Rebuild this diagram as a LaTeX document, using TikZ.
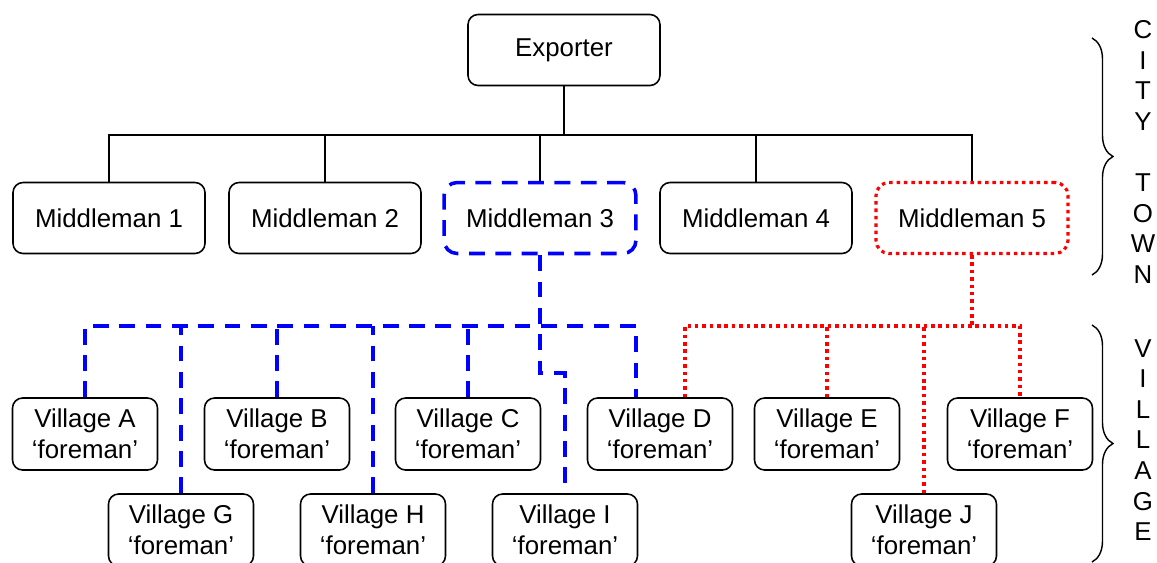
\documentclass[tikz,border=0pt]{standalone}
\usepackage{fontspec}
\setmainfont{Liberation Sans}
\usetikzlibrary{decorations.pathreplacing}
\definecolor{blueline}{HTML}{0000FF}
\definecolor{redline}{HTML}{FF0000}
\tikzset{
  box/.style={draw, line width=0.9pt, rounded corners=0.2cm, minimum width=3.84cm, minimum height=1.42cm, inner sep=0pt, align=center},
  village/.style={box, minimum width=2.9cm, minimum height=1.44cm},
  blueconn/.style={draw=blueline, line width=2pt, dash pattern=on 9pt off 6pt},
  redconn/.style={draw=redline, line width=1.8pt, dash pattern=on 2pt off 2.2pt},
  conn/.style={draw, line width=0.75pt},
  sidebrace/.style={decorate, decoration={brace, amplitude=0.42cm}, line width=0.8pt}
}

\begin{document}
\begin{tikzpicture}[x=0.02cm, y=-0.02cm, font=\fontsize{14.7}{17.4}\selectfont]
\useasboundingbox (0,0) rectangle (1157,562);

\node[box] (exp) at (564,50) {Exporter};
\node[box] (m1) at (109,218) {Middleman 1};
\node[box] (m2) at (325,218) {Middleman 2};
\node[box, blueconn, rounded corners=0.26cm] (m3) at (540,218) {Middleman 3};
\node[box] (m4) at (756,218) {Middleman 4};
\node[box, redconn, rounded corners=0.26cm] (m5) at (972,218) {Middleman 5};

\node[village] (va) at (85,434) {Village A\\‘foreman’};
\node[village] (vb) at (277,434) {Village B\\‘foreman’};
\node[village] (vc) at (468,434) {Village C\\‘foreman’};
\node[village] (vd) at (660,434) {Village D\\‘foreman’};
\node[village] (ve) at (827,434) {Village E\\‘foreman’};
\node[village] (vf) at (1020,434) {Village F\\‘foreman’};
\node[village] (vg) at (181,530) {Village G\\‘foreman’};
\node[village] (vh) at (373,530) {Village H\\‘foreman’};
\node[village] (vi) at (565,530) {Village I\\‘foreman’};
\node[village] (vj) at (924,530) {Village J\\‘foreman’};

\coordinate (bus) at (564,135);
\draw[conn, line width=1.4pt] (exp.south) -- (bus);
\foreach \m in {m1,m2,m3,m4,m5}
  \draw[conn] (\m.north) |- (bus);

\coordinate (bb) at (540,326);
\coordinate (bstep) at (540,373);
\draw[blueconn] ([xshift=0cm]va.north) |- (bb) -| ([xshift=-0.48cm]vd.north);
\foreach \v in {vg,vb,vh,vc}
  \draw[blueconn] (\v.north) -- (\v.north |- bb);
\draw[blueconn] (m3.south) -- (bstep) -| (vi.north);

\coordinate (rb) at (972,326);
\draw[redconn] (m5.south) -- (rb);
\draw[redconn] ([xshift=0.5cm]vd.north) |- (rb) -| (vf.north);
\foreach \v in {ve,vj}
  \draw[redconn] (\v.north) -- (\v.north |- rb);

\draw[sidebrace] (1092,38) -- (1092,275);
\draw[sidebrace] (1092,325) -- (1092,562);
\node[align=center] (citytown) at (1143,152) {C\\I\\T\\Y\\[17.4pt]T\\O\\W\\N};
\node[align=center] (villagetxt) at (1143,440) {V\\I\\L\\L\\A\\G\\E};
\end{tikzpicture}
\end{document}
